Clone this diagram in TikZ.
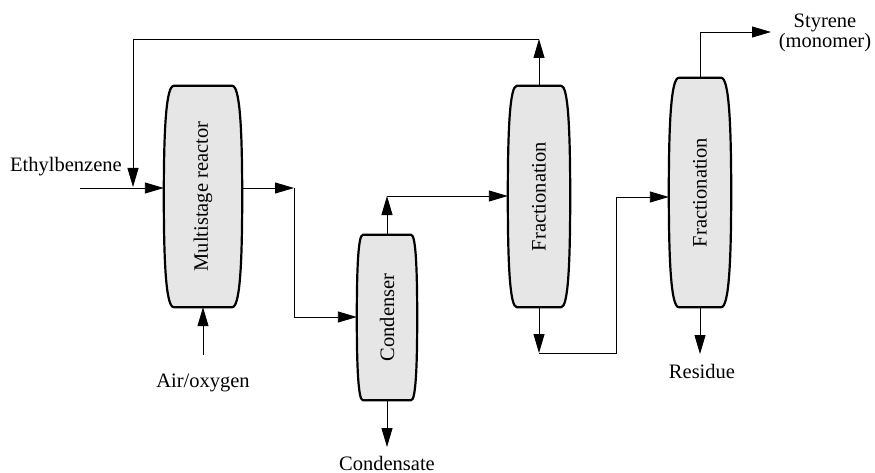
\documentclass[tikz,border=0pt]{standalone}
\usepackage{fontspec}
\setmainfont{Liberation Serif}
\usetikzlibrary{arrows.meta,calc}
\definecolor{colfill}{HTML}{E6E6E6}
\newcommand\drawcol[3]{% node name, inset, control length
  \filldraw[colshape]
    ($(#1.north west)+(#2,0)$) -- ($(#1.north east)+(-#2,0)$)
    .. controls +(0.75*#2,0) and +(0,-#3) .. (#1.east)
    .. controls +(0,#3) and +(0.75*#2,0) .. ($(#1.south east)+(-#2,0)$)
    -- ($(#1.south west)+(#2,0)$)
    .. controls +(-0.75*#2,0) and +(0,#3) .. (#1.west)
    .. controls +(0,-#3) and +(-0.75*#2,0) .. cycle;}
\begin{document}
\begin{tikzpicture}[x=1pt,y=-1pt,
  font=\fontsize{20.5}{23}\selectfont,
  colbox/.style={draw=none, inner sep=0pt, minimum width=#1},
  colshape/.style={fill=colfill, draw=black, line width=2.2pt, line join=round},
  flow/.style={line width=0.9pt, -{Triangle[length=19pt,width=11pt]}},
  lbl/.style={inner sep=0pt, align=center}]
\useasboundingbox (0,0) rectangle (875,473);
% column nodes (invisible frames)
\node[colbox=78pt, minimum height=221pt] (R) at (203,196.5) {};
\node[colbox=60pt, minimum height=165pt] (C) at (387,317.5) {};
\node[colbox=62pt, minimum height=221pt] (F1) at (539,196.5) {};
\node[colbox=62pt, minimum height=229pt] (F2) at (700,192.5) {};
\drawcol{R}{10}{70}
\drawcol{C}{6}{50}
\drawcol{F1}{9}{70}
\drawcol{F2}{10}{72}
\node[rotate=90] (Rt) at (R) {Multistage reactor};
\node[rotate=90] (Ct) at (C) {Condenser};
\node[rotate=90] (F1t) at (F1) {Fractionation};
\node[rotate=90] (F2t) at (F2) {Fractionation};
% labels
\node[lbl] (eb) at (66,167) {Ethylbenzene};
\node[lbl] (air) at (203,383) {Air/oxygen};
\node[lbl] (cond) at (387,463) {Condensate};
\node[lbl] (res) at (702,371) {Residue};
\node[lbl] (sty) at (825,33) {Styrene\\[-3pt](monomer)};
% coordinates
\coordinate (ebin) at (80,188);
\coordinate (rc1) at (539,39);
\coordinate (rc2) at (133,39);
\coordinate (rc3) at (133,187);
\coordinate (j1) at (294,188);
\coordinate (j2) at (294,317);
\coordinate (c1) at (387,196);
\coordinate (cb) at (387,447);
\coordinate (airin) at (203,355);
\coordinate (f1b) at (539,353);
\coordinate (k1) at (616,353);
\coordinate (k2) at (616,197);
\coordinate (t1) at (700,32);
\coordinate (t2) at (771,32);
\coordinate (rb) at (700,354);
% connectors
\draw[flow] (ebin) -- (ebin -| R.west);
\draw[flow] (F1.north) -- (rc1);
\draw[flow] (rc1) -- (rc2) -- (rc3);
\draw[flow] (j1 -| R.east) -- (j1);
\draw[flow] (j1) -- (j2) -- (j2 -| C.west);
\draw[flow] (C.north) -- (c1);
\draw[flow] (c1) -- (c1 -| F1.west);
\draw[flow] (C.south) -- (cb);
\draw[flow] (airin) -- (R.south);
\draw[flow] (F1.south) -- (f1b);
\draw[flow] (f1b) -- (k1) -- (k2) -- (k2 -| F2.west);
\draw[flow] (F2.north) -- (t1) -- (t2);
\draw[flow] (F2.south) -- (rb);
\end{tikzpicture}
\end{document}
